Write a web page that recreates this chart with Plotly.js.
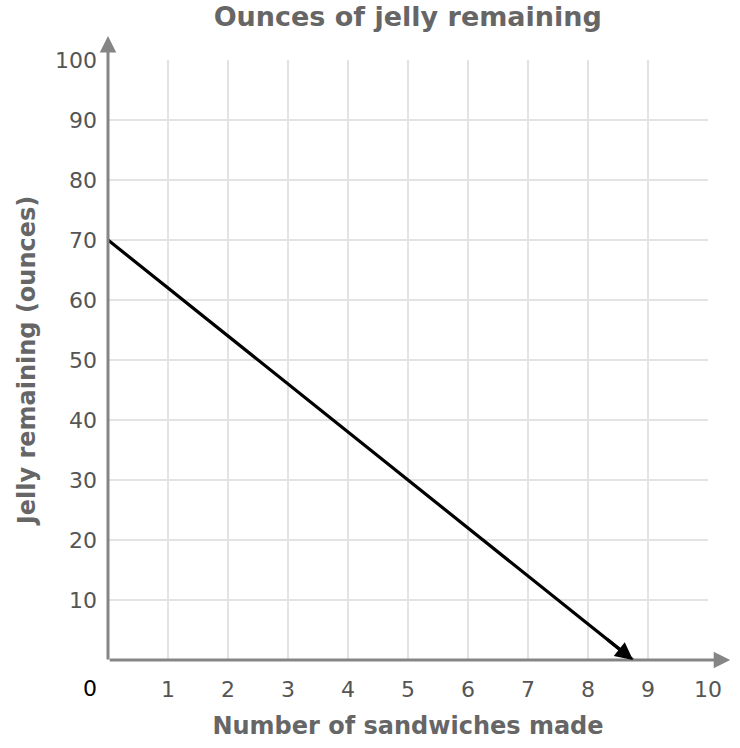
<!DOCTYPE html>
<html>
<head>
<meta charset="utf-8">
<script src="https://cdn.plot.ly/plotly-3.0.1.min.js"></script>
<style>
  body { margin: 0; background: #fff; }
  #chart { width: 740px; height: 748px; }
</style>
</head>
<body>
<div id="chart"></div>
<script>
// jelly left after each sandwich: starts at 70 oz, runs out a bit before 9
var sandwiches = [0, 8.75];
var jelly = [70, 0];

var xTicks = [1, 2, 3, 4, 5, 6, 7, 8, 9, 10];
var yTicks = [10, 20, 30, 40, 50, 60, 70, 80, 90, 100];

var fontFamily = '"DejaVu Sans", Verdana, sans-serif';

var traces = [{
    x: sandwiches,
    y: jelly,
    mode: 'lines',
    line: { color: '#000', width: 3.2 },
    hoverinfo: 'skip'
}];

var layout = {
    width: 740,
    height: 748,
    margin: { l: 108, r: 32, t: 60, b: 88 },
    paper_bgcolor: '#fff',
    plot_bgcolor: '#fff',
    showlegend: false,
    font: { family: fontFamily, color: '#555' },
    title: {
        text: '<b>Ounces of jelly remaining</b>',
        font: { size: 27, color: '#666', family: fontFamily },
        x: 0.551, xanchor: 'center',
        y: 0.978, yanchor: 'middle'
    },
    xaxis: {
        range: [0, 10],
        tickvals: xTicks,
        ticktext: xTicks.map(String),
        ticks: '',
        ticklabelstandoff: 14,
        tickfont: { size: 22, color: '#555' },
        showgrid: true,
        gridcolor: '#e3e3e3',
        gridwidth: 2,
        zeroline: false,
        showline: false,
        fixedrange: true,
        title: {
            text: '<b>Number of sandwiches made</b>',
            font: { size: 24, color: '#666' },
            standoff: 16
        }
    },
    yaxis: {
        range: [0, 100],
        tickvals: yTicks,
        ticktext: yTicks.map(String),
        ticks: '',
        ticklabelstandoff: 10,
        tickfont: { size: 22, color: '#555' },
        showgrid: true,
        gridcolor: '#e3e3e3',
        gridwidth: 2,
        zeroline: false,
        showline: false,
        fixedrange: true,
        title: {
            text: '<b>Jelly remaining (ounces)</b>',
            font: { size: 24, color: '#666' },
            standoff: 12
        }
    },
    annotations: [
        // x axis with arrow
        {
            xref: 'paper', yref: 'paper', x: 1.037, y: 0,
            ax: -622, ay: 0, axref: 'pixel', ayref: 'pixel',
            text: '', showarrow: true,
            arrowcolor: '#858585', arrowwidth: 3, arrowhead: 2, arrowsize: 1.1, standoff: 0
        },
        // y axis with arrow
        {
            xref: 'paper', yref: 'paper', x: 0, y: 1.04,
            ax: 0, ay: 625, axref: 'pixel', ayref: 'pixel',
            text: '', showarrow: true,
            arrowcolor: '#858585', arrowwidth: 3, arrowhead: 2, arrowsize: 1.1, standoff: 0
        },
        // arrowhead at the end of the jelly line
        {
            xref: 'x', yref: 'y',
            x: sandwiches[1], y: jelly[1],
            axref: 'x', ayref: 'y',
            ax: 8.3, ay: 3.6,
            text: '', showarrow: true,
            arrowcolor: '#000', arrowwidth: 3.2, arrowhead: 2, arrowsize: 1.1, standoff: 0
        },
        // origin label
        {
            xref: 'x', yref: 'y', x: 0, y: 0,
            xshift: -18, yshift: -28,
            text: '0', showarrow: false,
            font: { size: 22, color: '#000' }
        }
    ]
};

document.addEventListener('DOMContentLoaded', function() {
    Plotly.newPlot('chart', traces, layout, { displayModeBar: false, staticPlot: true });
});
</script>
</body>
</html>
